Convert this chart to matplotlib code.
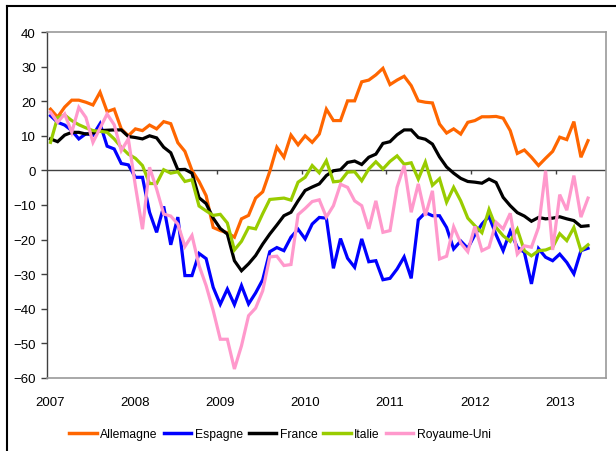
import numpy as np
import matplotlib.pyplot as plt
from matplotlib.lines import Line2D

plt.rcParams['font.family'] = ['Liberation Sans', 'DejaVu Sans']

# Données mensuelles, janvier 2007 -> mai 2013
annee_debut = 2007
annees = [2007, 2008, 2009, 2010, 2011, 2012, 2013]

allemagne = [17.7, 15.4, 18.3, 20.3, 20.3, 19.7, 18.9, 22.6, 17.0, 17.7, 12.0, 10.0,
             12.0, 11.5, 13.1, 12.0, 14.1, 13.5, 8.0, 5.5, 0.0, -3.2, -7.3, -16.5,
             -17.4, -18.0, -19.3, -14.0, -13.0, -8.0, -6.2, -0.3, 6.7, 3.8, 10.2, 7.4,
             10.0, 8.1, 10.5, 17.7, 14.4, 14.4, 20.1, 20.1, 25.6, 26.1, 27.6, 29.5,
             24.8, 26.1, 27.2, 24.5, 20.1, 19.7, 19.5, 13.4, 10.8, 12.0, 10.5, 13.9,
             14.4, 15.5, 15.5, 15.6, 15.1, 11.5, 4.9, 5.9, 3.8, 1.4, 3.5, 5.5,
             9.6, 8.9, 14.1, 3.8, 8.6]

espagne = [15.8, 13.9, 13.1, 11.5, 9.1, 10.6, 10.2, 13.5, 7.0, 6.2, 2.0, 1.6,
           -2.0, -2.0, -12.1, -17.9, -10.4, -21.5, -13.5, -30.4, -30.4, -24.0, -25.5, -33.8,
           -38.7, -34.3, -38.8, -33.3, -38.6, -35.4, -31.6, -23.5, -22.3, -23.2, -19.3, -17.0,
           -19.8, -15.5, -13.6, -13.8, -28.3, -19.7, -25.4, -28.0, -19.8, -26.4, -26.1, -31.6,
           -31.2, -28.5, -25.0, -31.2, -14.3, -12.2, -13.1, -13.1, -16.5, -22.7, -20.4, -22.5,
           -18.6, -15.5, -13.3, -18.6, -23.2, -17.6, -22.2, -23.7, -32.8, -22.6, -25.1, -26.1,
           -24.2, -26.6, -29.9, -23.2, -22.5]

france = [9.1, 8.3, 10.2, 11.0, 11.0, 10.5, 10.8, 11.5, 11.6, 11.7, 11.7, 9.8,
          9.5, 9.1, 10.0, 9.4, 6.7, 5.1, 0.2, 0.3, -0.8, -7.9, -9.6, -13.8,
          -16.8, -18.4, -26.1, -29.0, -27.0, -24.6, -21.3, -18.4, -15.8, -13.1, -12.1, -8.8,
          -5.8, -4.8, -3.9, -1.5, -0.1, 0.2, 2.3, 2.7, 1.7, 3.8, 4.7, 7.8,
          8.3, 10.3, 11.7, 11.7, 9.5, 9.0, 7.6, 3.9, 1.0, -0.8, -2.3, -3.2,
          -3.4, -3.7, -2.5, -3.5, -7.8, -10.2, -12.2, -13.2, -14.7, -13.6, -14.0, -13.8,
          -13.4, -14.0, -14.5, -16.2, -16.0]

italie = [8.1, 15.3, 16.0, 14.4, 13.2, 12.3, 11.5, 11.3, 11.0, 9.1, 6.7, 4.7,
          3.5, 1.4, -3.8, -3.8, 0.2, -0.8, -0.4, -3.2, -2.7, -10.3, -11.7, -13.0,
          -12.7, -15.2, -23.0, -20.5, -16.5, -16.9, -12.5, -8.4, -8.2, -8.0, -8.6, -3.4,
          -2.0, 1.4, -0.7, 2.8, -3.3, -3.1, -0.5, -0.4, -3.0, 0.4, 2.5, 0.4,
          2.6, 4.2, 1.8, 2.2, -2.5, 2.4, -4.3, -2.4, -9.2, -4.9, -8.8, -13.8,
          -16.0, -18.0, -11.3, -16.5, -18.9, -20.5, -17.0, -23.2, -24.7, -23.2, -23.0, -22.2,
          -18.3, -20.3, -16.5, -23.2, -21.5]

royaume_uni = [16.8, 13.9, 16.3, 11.0, 18.2, 15.3, 8.1, 12.2, 16.3, 13.2, 5.7, 9.1,
               -4.5, -17.0, 0.9, -5.4, -12.6, -13.2, -15.5, -22.0, -18.8, -27.5, -33.3, -40.5,
               -48.8, -48.8, -57.4, -50.7, -42.0, -39.8, -34.8, -25.0, -24.8, -27.5, -27.2, -12.8,
               -11.0, -9.0, -8.5, -13.5, -10.2, -4.0, -4.9, -8.8, -10.2, -16.9, -8.8, -17.9,
               -17.4, -4.9, 1.4, -12.1, -3.9, -13.1, -5.9, -25.6, -24.8, -16.3, -21.0, -23.5,
               -16.2, -23.2, -22.2, -15.0, -16.9, -12.4, -24.2, -21.8, -22.2, -16.5, -0.1, -23.0,
               -7.0, -11.5, -1.5, -13.5, -8.0]

series = [("Allemagne", allemagne, "#FF6600"),
          ("Espagne", espagne, "#0000FF"),
          ("France", france, "#000000"),
          ("Italie", italie, "#99CC00"),
          ("Royaume-Uni", royaume_uni, "#FF99CC")]

n = len(allemagne)
dates = annee_debut + (np.arange(n) + 0.5) / 12

fig = plt.figure(figsize=(6.16, 4.52), dpi=100)
ax = fig.add_axes([47/616, 1 - 379/452, (605.7 - 47)/616, (379 - 33)/452])

# ligne du zéro avec petites graduations
ax.axhline(0, color="#404040", lw=1.0, zorder=1)
ax.vlines(annees[1:], -1.1, 0, color="#404040", lw=1.0, zorder=1)

for nom, vals, coul in series:
    ax.plot(dates, vals, color=coul, lw=2.3, label=nom, solid_joinstyle="miter", zorder=2)

ax.set_xlim(2007, 2013 + 7/12)
ax.set_ylim(-60, 40)
ax.set_yticks(np.arange(-60, 41, 10))
ax.set_xticks(np.array(annees) + 0.5/12)
ax.set_xticklabels([str(a) for a in annees])
ax.tick_params(axis="y", direction="out", length=4, width=1, color="#404040",
               labelsize=9.5, pad=4)
ax.tick_params(axis="x", length=0, labelsize=9.5, pad=13)

for cote in ["top", "right", "bottom"]:
    ax.spines[cote].set_color("#999999")
    ax.spines[cote].set_linewidth(1.2)
ax.spines["left"].set_color("#404040")
ax.spines["left"].set_linewidth(1.0)

leg = fig.legend(loc="center", bbox_to_anchor=(280/616, 1 - 435/452), ncol=5,
                 frameon=False, fontsize=8.7, handlelength=2.25, handletextpad=0.3,
                 columnspacing=0.5)
for l in leg.get_lines():
    l.set_linewidth(2.5)

# cadre de la zone graphique
fig.add_artist(Line2D([7/616, 1], [1 - 7/452, 1 - 7/452], color="black", lw=1.5,
                      transform=fig.transFigure))
fig.add_artist(Line2D([7/616, 7/616], [0, 1 - 7/452], color="black", lw=1.5,
                      transform=fig.transFigure))

fig.savefig("out.png", dpi=100)
